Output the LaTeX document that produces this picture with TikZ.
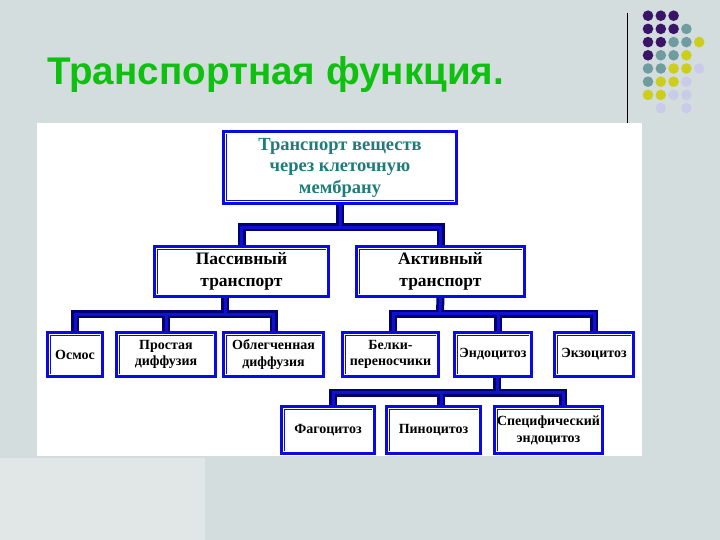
\documentclass[tikz,border=0pt]{standalone}
\usepackage{fontspec}
\setmainfont{Liberation Serif}
\newfontfamily\titlefont{Liberation Sans}
\usetikzlibrary{calc}
\definecolor{bgdense}{HTML}{D4DDDD}
\definecolor{bgsparse}{HTML}{E1E7E7}
\definecolor{titlegreen}{HTML}{10C010}
\definecolor{boxblue}{HTML}{0A0AE6}
\definecolor{wirenavy}{HTML}{000070}
\definecolor{wireblue}{HTML}{1010D0}
\definecolor{topteal}{HTML}{1F7C7A}
\definecolor{dpurple}{HTML}{3A1466}
\definecolor{dteal}{HTML}{6F9D9F}
\definecolor{dyellow}{HTML}{CDCD1E}
\definecolor{dlight}{HTML}{C9CCE8}
\pgfdeclarelayer{back}
\pgfdeclarelayer{wires}
\pgfsetlayers{back,wires,main}
\newcommand\inframe[1]{\draw[white,line width=0.9pt] ([shift={(1.3,1.3)}]#1.north west) rectangle ([shift={(-1.3,-1.3)}]#1.south east);}
\begin{document}
\begin{tikzpicture}[x=1pt,y=-1pt,
  box/.style={rectangle,draw=boxblue,line width=4.5pt,fill=white,inner sep=1pt,outer sep=0pt,align=center},
  lvla/.style={box,font=\bfseries\fontsize{18.5}{21.5}\selectfont,text=topteal},
  lvlb/.style={box,font=\bfseries\fontsize{17.5}{22}\selectfont,minimum height=48.5pt},
  lvlc/.style={box,font=\bfseries\fontsize{14}{16.5}\selectfont,minimum height=42.5pt},
  lvld/.style={box,font=\bfseries\fontsize{14}{17}\selectfont,minimum height=45.5pt},
  wireout/.style={draw=wirenavy,line width=8pt,line join=miter},
  wirein/.style={draw=wireblue,line width=3pt,line join=miter},
  dotp/.style={fill=dpurple},
  dott/.style={fill=dteal},
  doty/.style={fill=dyellow},
  dotl/.style={fill=dlight}]
\useasboundingbox (0,0) rectangle (720,540);
\begin{pgfonlayer}{back}
\fill[bgdense] (0,0) rectangle (720,540);
\fill[bgsparse] (0,458) rectangle (205,540);
\fill[white] (37,123) rectangle (642,456);
\end{pgfonlayer}

% decoration
\draw[black,line width=1.2pt] (627.7,12.7) -- (627.7,122.7);
\foreach \r/\c/\s in {1/1/p,1/2/p,1/3/p,
  2/1/p,2/2/p,2/3/p,2/4/t,
  3/1/p,3/2/p,3/3/t,3/4/t,3/5/y,
  4/1/p,4/2/t,4/3/t,4/4/y,
  5/1/t,5/2/t,5/3/y,5/4/y,5/5/l,
  6/1/t,6/2/y,6/3/y,6/4/l,
  7/1/y,7/2/y,7/3/l,7/4/l,
  8/2/l,8/4/l}
  \fill[dot\s] ({648+12.8*(\c-1)},{15.7+13.2*(\r-1)}) circle (5.3);

% title
\node[anchor=base west,inner sep=0,font=\titlefont\bfseries\fontsize{38.6}{40}\selectfont,text=titlegreen] (title) at (47,85) {Транспортная функция.};

% boxes
\node[lvla,minimum width=231.5pt,minimum height=70.5pt] (top) at (340,167.5) {\raisebox{-2pt}{\parbox{220pt}{\centering Транспорт веществ\\через клеточную\\мембрану}}};
\node[lvlb,minimum width=172.5pt] (pass) at (241.5,271.5) {Пассивный\\транспорт};
\node[lvlb,minimum width=166.5pt] (act) at (440.5,271.5) {Активный\\транспорт};

\node[lvlc,minimum width=53.5pt] (osm) at (75,354.5) {Осмос};
\node[lvlc,minimum width=97.5pt] (pros) at (166,354.5) {Простая\\диффузия};
\node[lvlc,minimum width=98.5pt] (obl) at (273.5,354.5) {Облегченная\\диффузия};
\node[lvlc,minimum width=94.5pt] (bel) at (390.5,354.5) {Белки-\\переносчики};
\node[lvlc,minimum width=75.5pt] (endo) at (493,354.5) {Эндоцитоз};
\node[lvlc,minimum width=77.5pt] (exo) at (594,354.5) {Экзоцитоз};

\node[lvld,minimum width=91.5pt] (fag) at (328,430) {Фагоцитоз};
\node[lvld,minimum width=92.5pt] (pin) at (433.5,430) {Пиноцитоз};
\node[lvld,minimum width=106.5pt] (spec) at (548.5,430) {Специфический\\эндоцитоз};

\foreach \n in {top,pass,act,osm,pros,obl,bel,endo,exo,fag,pin,spec} {\inframe{\n}}

% connector helper points
\coordinate (b1) at (340,227.5);
\coordinate (b2) at (225,314);
\coordinate (b3) at (440,313.5);
\coordinate (b4) at (497,392.5);
\coordinate (pd) at ([xshift=-16.5]pass.south);
\coordinate (ed) at ([xshift=4]endo.south);
\coordinate (endod) at ([xshift=5]endo.north);
\coordinate (belu) at ([xshift=2.5]bel.north);
\coordinate (fagu) at ([xshift=5]fag.north);
\coordinate (pinu) at ([xshift=7.5]pin.north);
\coordinate (specu) at ([xshift=14.5]spec.north);

\newcommand\wirepaths[1]{%
  \draw[#1] (top.south) -- (b1);
  \draw[#1] (pass.north) |- (b1) -| (act.north);
  \draw[#1] (pd) -- (pd |- b2);
  \draw[#1] (osm.north) |- (b2) -| (obl.north);
  \draw[#1] (pros.north) -- (pros.north |- b2);
  \draw[#1] (act.south) -- (b3);
  \draw[#1] (belu) |- (b3) -| (exo.north);
  \draw[#1] (endod) -- (endod |- b3);
  \draw[#1] (ed) -- (ed |- b4);
  \draw[#1] (fagu) |- (b4) -| (specu);
  \draw[#1] (pinu) -- (pinu |- b4);
}
\begin{pgfonlayer}{wires}
\wirepaths{wireout}
\wirepaths{wirein}
\end{pgfonlayer}
\end{tikzpicture}
\end{document}
